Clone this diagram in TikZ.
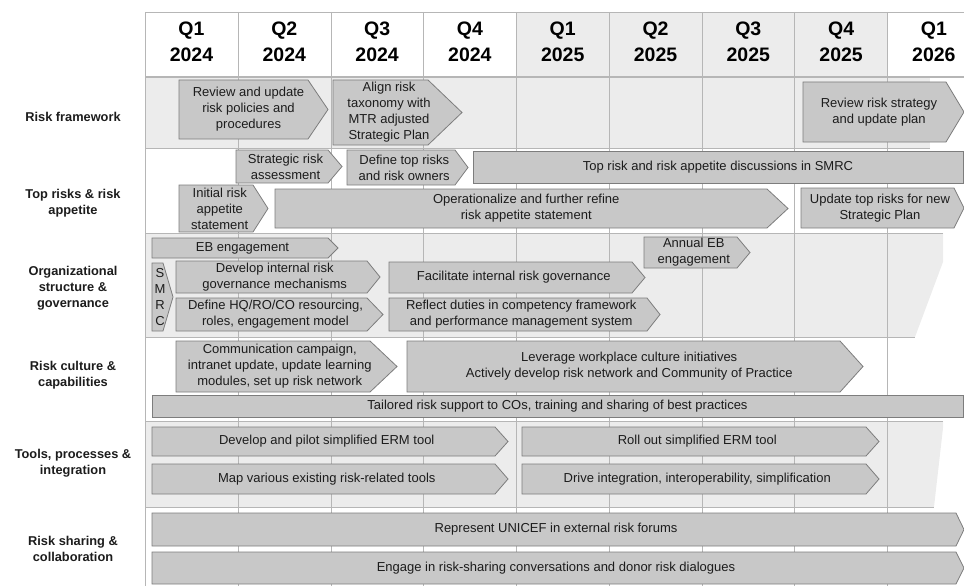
\documentclass[tikz,border=0pt]{standalone}
\usepackage{fontspec}
\setmainfont{Liberation Sans}

\definecolor{boxfill}{RGB}{200,200,200}
\definecolor{boxline}{RGB}{125,125,125}
\definecolor{bandfill}{RGB}{236,236,236}
\definecolor{gridline}{RGB}{182,182,182}
\definecolor{inkgray}{RGB}{28,28,28}

% chevron: name, left x, tip x, top y, bottom y, tip length, text
\newcommand{\chev}[7]{%
  \draw[phase] (#2,#4) -- (#3-#6,#4) -- (#3,{(#4+#5)/2}) -- (#3-#6,#5) -- (#2,#5) -- cycle;
  \node[phasetext] (#1) at ({(#2+#3-#6/2)/2},{(#4+#5)/2}) {#7};}

\begin{document}
\begin{tikzpicture}[x=1pt, y=-1pt]
		\tikzstyle{phase}=[draw=boxline, fill=boxfill, line width=0.8pt]
		\tikzstyle{phasetext}=[inner sep=0pt, align=center, text=inkgray, font=\fontsize{13}{16}\selectfont]
		\tikzstyle{rowlabel}=[inner sep=0pt, align=center, text=inkgray, font=\bfseries\fontsize{12.8}{16}\selectfont]
		\tikzstyle{quarter}=[inner sep=0pt, align=center, font=\bfseries\fontsize{19.5}{26}\selectfont]
		\tikzstyle{gridrule}=[draw=gridline, line width=0.8pt]
		\useasboundingbox (0,0) rectangle (964,586);

		% shaded bands
		\fill[bandfill] (516,12) rectangle (887,77);
		\fill[bandfill] (145,77) rectangle (930,148);
		\fill[bandfill] (145,233) -- (943,233) -- (943,262) -- (915,337) -- (145,337) -- cycle;
		\fill[bandfill] (145,421) -- (943,421) -- (943,428) -- (934,507) -- (145,507) -- cycle;

		% grid
		\foreach \x in {145,238,331,423,516,609,702,794,887}
			\draw[gridrule] (\x,12) -- (\x,586);
		\draw[gridrule] (145,12) -- (964,12);
		\draw[gridrule, line width=1.5pt] (145,77) -- (964,77);
		\foreach \y/\e in {148/930, 233/943, 337/915, 421/943, 507/934}
			\draw[gridrule] (145,\y) -- (\e,\y);

		% quarters
		\foreach \q/\yr [count=\i] in {Q1/2024, Q2/2024, Q3/2024, Q4/2024, Q1/2025, Q2/2025, Q3/2025, Q4/2025, Q1/2026}
			\node[quarter] (q\i) at ({191.5+92.8*(\i-1)},42) {\q\\\yr};

		% rows
		\node[rowlabel] (framework) at (73,117) {Risk framework};
		\node[rowlabel] (toprisks) at (73,203) {Top risks \& risk\\appetite};
		\node[rowlabel] (structure) at (73,288) {Organizational\\structure \&\\governance};
		\node[rowlabel] (culture) at (73,375) {Risk culture \&\\capabilities};
		\node[rowlabel] (tools) at (73,463) {Tools, processes \&\\integration};
		\node[rowlabel] (sharing) at (73,549) {Risk sharing \&\\collaboration};

		% risk framework
		\chev{rfReview}{179}{328}{80}{139}{20}{Review and update\\risk policies and\\procedures}
		\chev{rfAlign}{333}{462}{80}{145}{34}{Align risk\\taxonomy with\\MTR adjusted\\Strategic Plan}
		\chev{rfStrategy}{803}{964}{82}{142}{18}{Review risk strategy\\and update plan}

		% top risks
		\chev{trAssess}{236}{342}{150}{183}{14}{Strategic risk\\assessment}
		\chev{trDefine}{347}{468}{150}{185}{13}{Define top risks\\and risk owners}
		\chev{trSMRC}{473}{963}{151}{183}{0}{Top risk and risk appetite discussions in SMRC}
		\chev{trInitial}{179}{268}{185}{232}{15}{Initial risk\\appetite\\statement}
		\chev{trRefine}{275}{788}{189}{228}{21}{Operationalize and further refine\\risk appetite statement}
		\chev{trUpdate}{801}{964}{188}{228}{10}{Update top risks for new\\Strategic Plan}

		% structure and governance
		\chev{sgEB}{152}{338}{238}{258}{10}{EB engagement}
		\chev{sgAnnual}{644}{750}{237}{268}{13}{Annual EB\\engagement}
		\chev{sgSMRC}{152}{173}{263}{331}{10}{S\\M\\R\\C}
		\chev{sgDevelop}{176}{380}{261}{293}{13}{Develop internal risk\\governance mechanisms}
		\chev{sgDefine}{176}{383}{298}{331}{16}{Define HQ/RO/CO resourcing,\\roles, engagement model}
		\chev{sgFacilitate}{389}{645}{262}{293}{13}{Facilitate internal risk governance}
		\chev{sgReflect}{389}{660}{298}{331}{13}{Reflect duties in competency framework\\and performance management system}

		% culture
		\chev{rcCampaign}{176}{397}{341}{392}{27}{Communication campaign,\\intranet update, update learning\\modules, set up risk network}
		\chev{rcLeverage}{407}{863}{341}{392}{23}{Leverage workplace culture initiatives\\Actively develop risk network and Community of Practice}
		\chev{rcSupport}{152}{963}{395}{417}{0}{Tailored risk support to COs, training and sharing of best practices}

		% tools
		\chev{tpPilot}{152}{508}{427}{456}{13}{Develop and pilot simplified ERM tool}
		\chev{tpRollout}{522}{879}{427}{456}{13}{Roll out simplified ERM tool}
		\chev{tpMap}{152}{508}{464}{494}{13}{Map various existing risk-related tools}
		\chev{tpDrive}{522}{879}{464}{494}{13}{Drive integration, interoperability, simplification}

		% sharing
		\chev{rsForums}{152}{964}{513}{546}{8}{Represent UNICEF in external risk forums}
		\chev{rsDonor}{152}{964}{552}{584}{8}{Engage in risk-sharing conversations and donor risk dialogues}
\end{tikzpicture}
\end{document}
